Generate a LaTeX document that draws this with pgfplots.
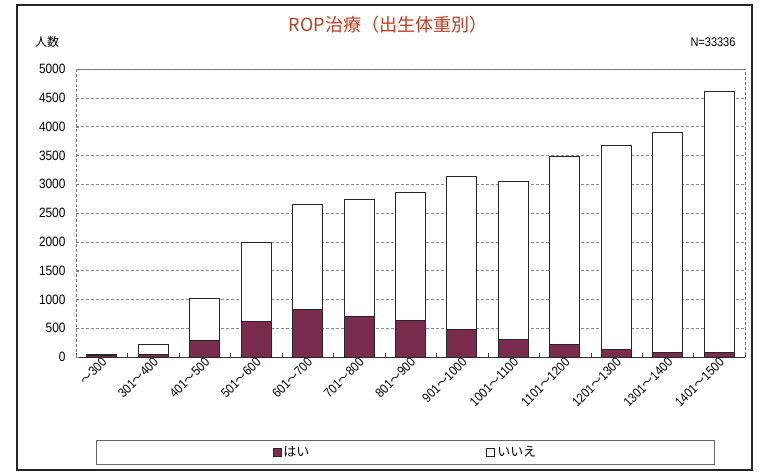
\documentclass[border=0pt]{standalone}
\usepackage{pgfplots}
\pgfplotsset{compat=1.18}
\usepackage{fontspec}
\setmainfont{Liberation Sans}
\newfontfamily\jp{Noto Sans CJK JP}
\newfontfamily\narrow[FakeStretch=0.88]{Liberation Sans}
\definecolor{hai}{RGB}{122,44,78}
\definecolor{ttl}{RGB}{185,62,35}
\newcommand\til{{\jp\fontsize{12}{14}\selectfont 〜}}
\pgfplotsset{sqlegend/.style={legend image code/.code={\draw[##1,line width=0.8pt] (0pt,-4pt) rectangle (8pt,4pt);}}}
\begin{document}
\begin{tikzpicture}[x=1pt,y=1pt]
\path[use as bounding box] (0,0) rectangle (762,474);
\draw[black!85, line width=1.2pt] (17,4) rectangle (752,469);
\node[font=\jp\fontsize{18}{20}\selectfont, text=ttl] at (388,449) {ROP治療（出生体重別）};
\node[font=\jp\fontsize{12}{14}\selectfont] at (47,432) {人数};
\node[font=\narrow\fontsize{12.5}{14}\selectfont] at (713,432) {N=33336};
\begin{axis}[
  at={(76pt,117pt)}, anchor=south west,
  scale only axis, width=669pt, height=288pt,
  ybar stacked, bar width=30pt,
  xmin=-0.5, xmax=12.5, ymin=0, ymax=5000,
  ytick={0,500,...,5000},
  xtick={0,...,12},
  xticklabels={\til300, 301\til400, 401\til500, 501\til600, 601\til700, 701\til800, 801\til900, 901\til1000, 1001\til1100, 1101\til1200, 1201\til1300, 1301\til1400, 1401\til1500},
  minor xtick={-0.5,0.5,...,12.5},
  major x tick style={draw=none},
  minor x tick style={black!80},
  minor tick length=4pt,
  major tick length=3pt,
  xtick pos=lower, ytick pos=left,
  ymajorgrids, grid style={black!45, densely dashed},
  axis line style={black!55, densely dashed},
  extra y ticks={0}, extra y tick labels={},
  extra y tick style={grid style={black!80, solid, line width=0.8pt}},
  /pgf/number format/assume math mode=true,
  scaled y ticks=false,
  y tick label style={font=\narrow\fontsize{13.5}{15}\selectfont, /pgf/number format/1000 sep={}, xshift=-7pt},
  x tick label style={font=\narrow\fontsize{13}{15}\selectfont, rotate=45, anchor=east, xshift=3pt, yshift=-4pt},
  legend style={at={(0.4925,-0.33)}, anchor=center, draw=black!60,
    legend columns=2, inner xsep=176pt, inner ysep=4pt,
    font=\jp\fontsize{13}{15}\selectfont,
    /tikz/every even column/.append style={column sep=175pt}},
]
\addplot[fill=hai, draw=black!85, line width=1pt, sqlegend]
  coordinates {(0,25) (1,50) (2,290) (3,620) (4,820) (5,700) (6,630) (7,480) (8,310) (9,210) (10,130) (11,80) (12,75)};
\addlegendentry{はい}
\addplot[fill=white, draw=black!85, line width=1pt, sqlegend]
  coordinates {(0,20) (1,170) (2,720) (3,1370) (4,1830) (5,2040) (6,2220) (7,2650) (8,2730) (9,3270) (10,3540) (11,3820) (12,4536)};
\addlegendentry{いいえ}
\end{axis}
\end{tikzpicture}
\end{document}
